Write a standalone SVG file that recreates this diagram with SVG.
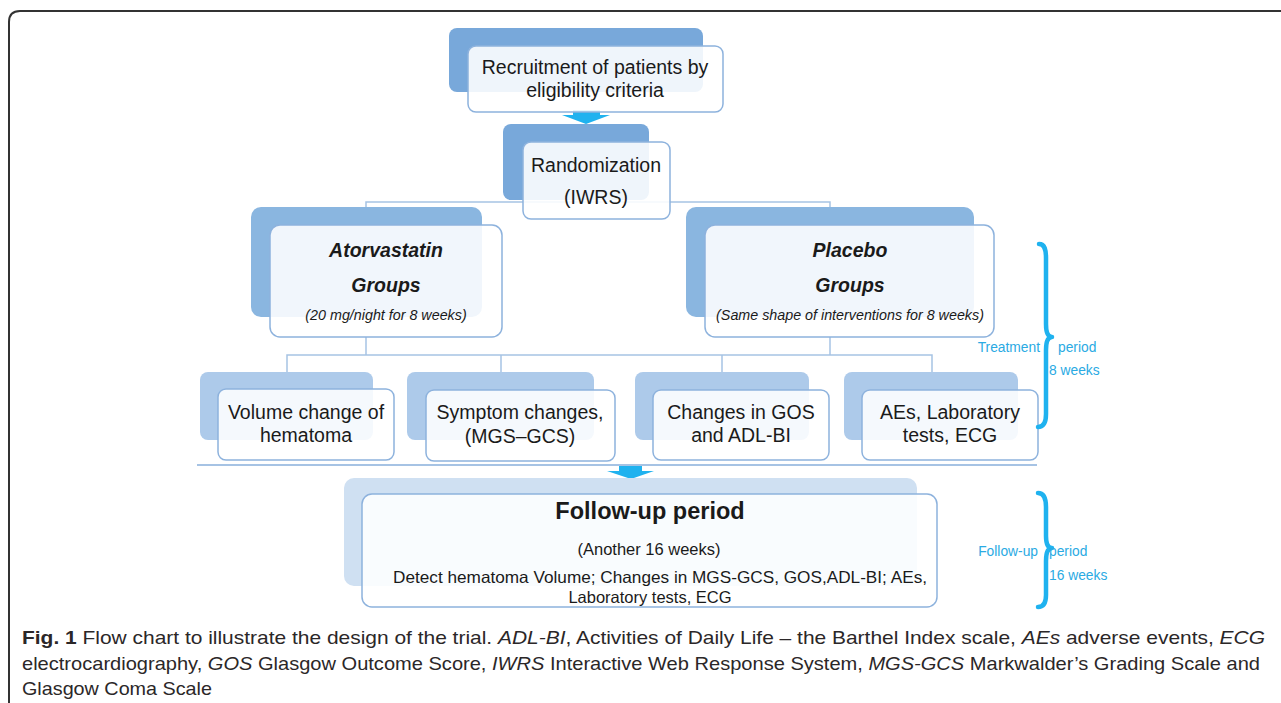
<svg xmlns="http://www.w3.org/2000/svg" width="1281" height="703" viewBox="0 0 1281 703">
<defs>
<style>
.bg{fill:#fff}
.b1{fill:#78a8da}
.b2{fill:#8ab6e0}
.b3{fill:#adcaea}
.b4{fill:#cfe0f2}
.fr{fill:#fff;fill-opacity:0.88;stroke:#8db2dd;stroke-width:1.5}
.t{font-family:"Liberation Sans",Arial,sans-serif;fill:#1a1a1a;text-anchor:middle}
.c{fill:none;stroke:#a6c3e4;stroke-width:1.5}
.ar{fill:#1fb2ef}
.br{fill:none;stroke:#1fb2ef;stroke-width:4.5;stroke-linecap:round;stroke-linejoin:round}
.bt{font-family:"Liberation Sans",Arial,sans-serif;fill:#2aaae3;font-size:13.8px}
.cap{font-family:"Liberation Sans",Arial,sans-serif;fill:#2b2728;font-size:18.5px}
</style>
</defs>
<rect class="bg" x="0" y="0" width="1281" height="703"/>
<path d="M9 703 L9 22 Q9 11 20 11 L1281 11" fill="none" stroke="#333" stroke-width="2"/>

<g id="connectors">
<polyline class="c" points="366,210 366,202 830,202 830,210"/>
<polyline class="c" points="366,337 366,355"/>
<polyline class="c" points="830,337 830,355"/>
<polyline class="c" points="287,372 287,355 932,355 932,372"/>
<line class="c" x1="501" y1="355" x2="501" y2="372"/>
<line class="c" x1="722" y1="355" x2="722" y2="372"/>
<line x1="197" y1="465" x2="1037" y2="465" stroke="#a6c3e4" stroke-width="2"/>
<polygon class="ar" points="573,110 600,110 600,115 610,115 586,124 562,115 573,115"/>
<polygon class="ar" points="619,466 642,466 642,471 654,471 631,479 607,471 619,471"/>
</g>

<g id="n-recruit">
<rect class="b1" x="449" y="28" width="254" height="64" rx="8"/>
<rect class="fr" x="468" y="46" width="255" height="66" rx="8"/>
<text class="t" font-size="19.5" x="595" y="74">Recruitment of patients by</text>
<text class="t" font-size="19.5" x="595" y="97">eligibility criteria</text>
</g>

<g id="n-random">
<rect class="b1" x="503" y="124" width="146" height="76" rx="8"/>
<rect class="fr" x="523" y="142" width="147" height="77" rx="8"/>
<text class="t" font-size="19.5" x="596" y="172">Randomization</text>
<text class="t" font-size="19.5" x="596" y="204">(IWRS)</text>
</g>

<g id="n-atorva">
<rect class="b2" x="251" y="207" width="231" height="110" rx="10"/>
<rect class="fr" x="270" y="225" width="232" height="112" rx="10"/>
<text class="t" font-size="19.5" font-weight="bold" font-style="italic" x="386" y="257">Atorvastatin</text>
<text class="t" font-size="19.5" font-weight="bold" font-style="italic" x="386" y="292">Groups</text>
<text class="t" font-size="14.3" font-style="italic" x="386" y="320">(20 mg/night for 8 weeks)</text>
</g>

<g id="n-placebo">
<rect class="b2" x="686" y="207" width="288" height="110" rx="10"/>
<rect class="fr" x="705" y="225" width="289" height="112" rx="10"/>
<text class="t" font-size="19.5" font-weight="bold" font-style="italic" x="850" y="257">Placebo</text>
<text class="t" font-size="19.5" font-weight="bold" font-style="italic" x="850" y="292">Groups</text>
<text class="t" font-size="14.3" font-style="italic" x="850" y="320">(Same shape of interventions for 8 weeks)</text>
</g>

<g id="n-volume">
<rect class="b3" x="200" y="372" width="173" height="68" rx="8"/>
<rect class="fr" x="218" y="389" width="176" height="71" rx="8"/>
<text class="t" font-size="19.5" x="306" y="419">Volume change of</text>
<text class="t" font-size="19.5" x="306" y="442">hematoma</text>
</g>

<g id="n-symptom">
<rect class="b3" x="407" y="372" width="187" height="68" rx="8"/>
<rect class="fr" x="426" y="390" width="189" height="71" rx="8"/>
<text class="t" font-size="19.5" x="520" y="419">Symptom changes,</text>
<text class="t" font-size="19.5" x="520" y="443">(MGS–GCS)</text>
</g>

<g id="n-gos">
<rect class="b3" x="635" y="372" width="174" height="68" rx="8"/>
<rect class="fr" x="653" y="390" width="176" height="70" rx="8"/>
<text class="t" font-size="19.5" x="741" y="419">Changes in GOS</text>
<text class="t" font-size="19.5" x="741" y="442">and ADL-BI</text>
</g>

<g id="n-aes">
<rect class="b3" x="844" y="372" width="174" height="68" rx="8"/>
<rect class="fr" x="862" y="390" width="176" height="70" rx="8"/>
<text class="t" font-size="19.5" x="950" y="419">AEs, Laboratory</text>
<text class="t" font-size="19.5" x="950" y="442">tests, ECG</text>
</g>

<g id="n-followup">
<rect class="b4" x="344" y="478" width="573" height="108" rx="10"/>
<rect class="fr" x="362" y="494" width="575" height="113" rx="10"/>
<text class="t" font-size="23.5" font-weight="bold" x="650" y="519">Follow-up period</text>
<text class="t" font-size="16.5" x="649" y="555">(Another 16 weeks)</text>
<text class="t" font-size="16.5" x="660" y="583" textLength="534" lengthAdjust="spacingAndGlyphs">Detect hematoma Volume; Changes in MGS-GCS, GOS,ADL-BI; AEs,</text>
<text class="t" font-size="16.5" x="650" y="603">Laboratory tests, ECG</text>
</g>

<g id="brace-treatment">
<path class="br" d="M1039,244 C1045,244 1046,250 1046,258 L1046,324 C1046,332 1048,337 1052,337 C1048,337 1046,342 1046,350 L1046,414 C1046,422 1044,427 1038,427"/>
<text class="bt" x="1040" y="352" text-anchor="end">Treatment</text>
<text class="bt" x="1058" y="352">period</text>
<text class="bt" x="1049" y="375">8 weeks</text>
</g>

<g id="brace-followup">
<path class="br" d="M1038,493 C1044,493 1046,499 1046,507 L1046,536 C1046,544 1048,548 1052,548 C1048,548 1046,553 1046,561 L1046,595 C1046,602 1044,607 1038,607"/>
<text class="bt" x="1038" y="556" text-anchor="end">Follow-up</text>
<text class="bt" x="1049" y="556">period</text>
<text class="bt" x="1049" y="580">16 weeks</text>
</g>

<g id="caption">
<text class="cap" x="22" y="644" textLength="1243" lengthAdjust="spacingAndGlyphs"><tspan font-weight="bold">Fig. 1</tspan> Flow chart to illustrate the design of the trial. <tspan font-style="italic">ADL-BI</tspan>, Activities of Daily Life – the Barthel Index scale, <tspan font-style="italic">AEs</tspan> adverse events, <tspan font-style="italic">ECG</tspan></text>
<text class="cap" x="22" y="670" textLength="1238" lengthAdjust="spacingAndGlyphs">electrocardiography, <tspan font-style="italic">GOS</tspan> Glasgow Outcome Score, <tspan font-style="italic">IWRS</tspan> Interactive Web Response System, <tspan font-style="italic">MGS-GCS</tspan> Markwalder’s Grading Scale and</text>
<text class="cap" x="22" y="695" textLength="190" lengthAdjust="spacingAndGlyphs">Glasgow Coma Scale</text>
</g>
</svg>
